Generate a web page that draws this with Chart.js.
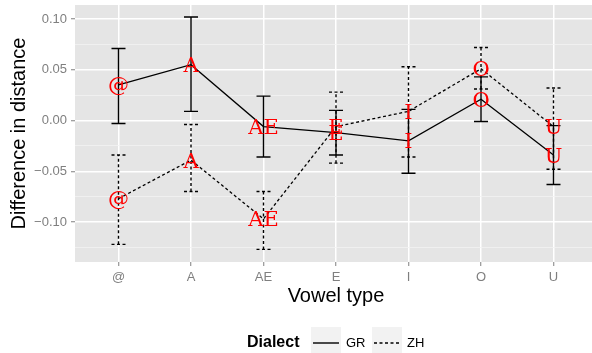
<!DOCTYPE html>
<html>
<head>
<meta charset="utf-8">
<script src="https://cdn.jsdelivr.net/npm/chart.js@4"></script>
<style>
  html, body { margin: 0; padding: 0; background: #fff; overflow: hidden; }
  #wrap { width: 592px; height: 353px; overflow: hidden; }
</style>
</head>
<body>
<div id="wrap"><canvas id="chart" width="597" height="353"></canvas></div>
<script>
const vowels = ['@', 'A', 'AE', 'E', 'I', 'O', 'U'];
const grMean = [0.035, 0.055, -0.006, -0.012, -0.020, 0.021, -0.034];
const grLow  = [-0.003, 0.009, -0.036, -0.034, -0.052, -0.001, -0.063];
const grHigh = [0.071, 0.102, 0.024, 0.010, 0.011, 0.043, -0.005];
const zhMean = [-0.077, -0.039, -0.097, -0.006, 0.009, 0.051, -0.006];
const zhLow  = [-0.122, -0.070, -0.127, -0.042, -0.036, 0.031, -0.048];
const zhHigh = [-0.034, -0.004, -0.070, 0.028, 0.053, 0.072, 0.032];
const yTicks = [-0.125, -0.1, -0.075, -0.05, -0.025, 0, 0.025, 0.05, 0.075, 0.1];

const DOTS = [3, 2.5];

function isMajor(v) {
    return Math.abs(v * 20 - Math.round(v * 20)) < 1e-6;
}

const panelBg = {
    id: 'panelBg',
    beforeDraw(chart) {
        const {ctx, chartArea: a} = chart;
        ctx.save();
        ctx.fillStyle = '#ffffff';
        ctx.fillRect(0, 0, chart.width, chart.height);
        ctx.fillStyle = '#E5E5E5';
        ctx.fillRect(a.left, a.top, a.right - a.left, a.bottom - a.top);
        ctx.restore();
    }
};

const errorsAndLabels = {
    id: 'errorsAndLabels',
    afterDatasetsDraw(chart) {
        const ctx = chart.ctx;
        const x = chart.scales.x, y = chart.scales.y;
        const groups = [
            {mean: grMean, low: grLow, high: grHigh, dash: []},
            {mean: zhMean, low: zhLow, high: zhHigh, dash: DOTS}
        ];
        ctx.save();
        ctx.strokeStyle = '#000';
        ctx.lineWidth = 1.4;
        groups.forEach(g => {
            ctx.setLineDash(g.dash);
            vowels.forEach((v, i) => {
                const px = x.getPixelForValue(i);
                const y1 = y.getPixelForValue(g.low[i]);
                const y2 = y.getPixelForValue(g.high[i]);
                ctx.beginPath();
                ctx.moveTo(px, y1); ctx.lineTo(px, y2);
                ctx.moveTo(px - 7, y1); ctx.lineTo(px + 7, y1);
                ctx.moveTo(px - 7, y2); ctx.lineTo(px + 7, y2);
                ctx.stroke();
            });
        });
        ctx.setLineDash([]);
        ctx.fillStyle = '#FF0000';
        ctx.font = '21px "DejaVu Serif"';
        ctx.textAlign = 'center';
        ctx.textBaseline = 'alphabetic';
        const asc = ctx.measureText('A').actualBoundingBoxAscent;
        groups.forEach(g => {
            vowels.forEach((v, i) => {
                const px = x.getPixelForValue(i);
                const py = y.getPixelForValue(g.mean[i]);
                ctx.fillText(v, px, py + asc / 2);
            });
        });
        ctx.restore();
    },
    afterDraw(chart) {
        const ctx = chart.ctx;
        const a = chart.chartArea;
        ctx.save();
        ctx.fillStyle = '#000';
        // axis titles
        ctx.font = '20px "Liberation Sans", Arial, sans-serif';
        ctx.textAlign = 'center';
        ctx.textBaseline = 'middle';
        ctx.fillText('Vowel type', (a.left + a.right) / 2, 296);
        ctx.save();
        ctx.translate(19, (a.top + a.bottom) / 2);
        ctx.rotate(-Math.PI / 2);
        ctx.fillText('Difference in distance', 0, 0);
        ctx.restore();

        // legend
        const ly = 343;
        ctx.font = 'bold 16px "Liberation Sans", Arial, sans-serif';
        ctx.textAlign = 'left';
        ctx.fillText('Dialect', 247, ly);
        const keys = [
            {x: 311, label: 'GR', dash: []},
            {x: 372, label: 'ZH', dash: DOTS}
        ];
        keys.forEach(k => {
            ctx.fillStyle = '#F2F2F2';
            ctx.fillRect(k.x, 327, 30, 26);
            ctx.strokeStyle = '#000';
            ctx.lineWidth = 1.4;
            ctx.setLineDash(k.dash);
            ctx.beginPath();
            ctx.moveTo(k.x + 2, ly); ctx.lineTo(k.x + 28, ly);
            ctx.stroke();
            ctx.setLineDash([]);
            ctx.fillStyle = '#000';
            ctx.font = '13px "Liberation Sans", Arial, sans-serif';
            ctx.fillText(k.label, k.x + 35, ly);
        });
        ctx.restore();
    }
};

const points = arr => arr.map((v, i) => ({x: i, y: v}));

new Chart(document.getElementById('chart'), {
    type: 'scatter',
    data: {
        datasets: [
            {label: 'GR', data: points(grMean), showLine: true, borderColor: '#000',
             borderWidth: 1.3, pointRadius: 0, fill: false},
            {label: 'ZH', data: points(zhMean), showLine: true, borderColor: '#000',
             borderWidth: 1.3, borderDash: DOTS, pointRadius: 0, fill: false}
        ]
    },
    options: {
        responsive: false,
        animation: false,
        events: [],
        layout: {padding: {top: 5, left: 0, right: 0, bottom: 0}},
        plugins: {legend: {display: false}, tooltip: {enabled: false}},
        scales: {
            x: {
                type: 'linear',
                min: -0.6,
                max: 6.6,
                afterBuildTicks: s => { s.ticks = vowels.map((v, i) => ({value: i})); },
                afterFit: s => { s.height = 91; s.paddingLeft = 0; s.paddingRight = 0; },
                ticks: {
                    callback: v => vowels[v],
                    color: '#7F7F7F',
                    font: {family: '"Liberation Sans", Arial, sans-serif', size: 13},
                    padding: 4,
                    maxRotation: 0,
                    autoSkip: false
                },
                grid: {color: '#FFFFFF', lineWidth: 1.5, tickColor: '#7F7F7F', tickLength: 4, tickWidth: 1},
                border: {display: false}
            },
            y: {
                min: -0.1394,
                max: 0.1138,
                afterBuildTicks: s => { s.ticks = yTicks.map(v => ({value: v})); },
                afterFit: s => { s.width = 75; s.paddingTop = 0; s.paddingBottom = 0; },
                ticks: {
                    callback: v => isMajor(v) ? (v < 0 ? '\u2212' : '') + Math.abs(v).toFixed(2) : '',
                    color: '#7F7F7F',
                    font: {family: '"Liberation Sans", Arial, sans-serif', size: 13},
                    padding: 4,
                    autoSkip: false
                },
                grid: {
                    color: c => isMajor(c.tick.value) ? '#FFFFFF' : '#F2F2F2',
                    lineWidth: c => isMajor(c.tick.value) ? 1.5 : 0.8,
                    tickColor: c => isMajor(c.tick.value) ? '#7F7F7F' : 'rgba(0,0,0,0)',
                    tickLength: 4,
                    tickWidth: 1
                },
                border: {display: false}
            }
        }
    },
    plugins: [panelBg, errorsAndLabels]
});
</script>
</body>
</html>
